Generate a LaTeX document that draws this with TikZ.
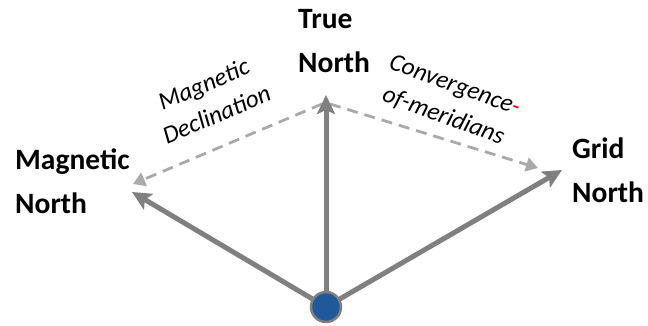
\documentclass[tikz,border=0pt]{standalone}
\usepackage{fontspec}
\setmainfont{Carlito}
\usetikzlibrary{arrows.meta}
\definecolor{arrowgray}{RGB}{128,128,128}
\definecolor{dashgray}{RGB}{170,170,170}
\definecolor{dotblue}{RGB}{31,89,153}
\definecolor{hyphenred}{RGB}{200,0,0}
\tikzset{
  mainarrow/.style={draw=arrowgray, line width=5pt, -{Stealth[length=19pt,width=18pt,inset=4pt]}},
  dasharrow/.style={draw=dashgray, line width=2.8pt, dash pattern=on 11pt off 7pt, -{Triangle[length=12pt,width=14pt]}},
  biglabel/.style={font=\fontsize{29.5}{44}\selectfont\bfseries, align=left, inner sep=0pt, anchor=base west},
  anglabel/.style={font=\fontsize{25}{33}\selectfont\itshape, align=center, inner sep=0pt}
}
\begin{document}
\begin{tikzpicture}[x=1pt,y=-1pt]
\useasboundingbox (0,0) rectangle (648,326);
% end points
\coordinate (tn) at (326,95);
\coordinate (mn) at (132,192);
\coordinate (gn) at (562,170);
\coordinate (d1s) at (322,104);
\coordinate (d1e) at (133,184);
\coordinate (d2s) at (330,104);
\coordinate (d2e) at (538,168);
% dashed arrows
\draw[dasharrow] (d1s) -- (d1e);
\draw[dasharrow] (d2s) -- (d2e);
% origin
\node (o) [circle, minimum size=30pt, inner sep=0pt] at (326,307) {};
\draw[mainarrow] (o.center) -- (tn);
\draw[mainarrow] (o.center) -- (mn);
\draw[mainarrow] (o.center) -- (gn);
\node (dot) [circle, minimum size=30pt, inner sep=0pt, fill=dotblue, draw=arrowgray, line width=2.5pt] at (o.center) {};
% labels (anchor = baseline of the last line)
\node (truelbl) [biglabel] at (298,73) {True\\North};
\node (maglbl) [biglabel] at (15,213) {Magnetic\\North};
\node (gridlbl) [biglabel] at (572,202) {Grid\\North};
\node (declbl) [anglabel, rotate=23] at (210,99) {Magnetic\\Declination};
\node (convlbl) [anglabel, rotate=-20] at (449,101) {Convergence{\color{hyphenred}-}\\of-meridians};
\end{tikzpicture}
\end{document}
